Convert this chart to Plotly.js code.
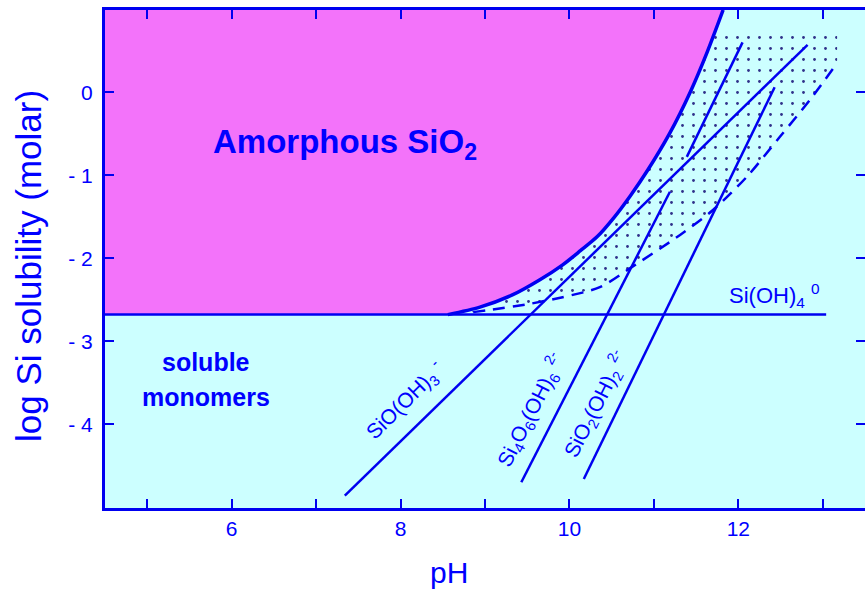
<!DOCTYPE html>
<html>
<head>
<meta charset="utf-8">
<script src="https://cdn.plot.ly/plotly-3.0.1.min.js"></script>
<style>html,body{margin:0;padding:0;background:#fff;}#chart{width:865px;height:590px;}</style>
</head>
<body>
<div id="chart"></div>
<script>
// ---- data ----
var silicaLog = -2.68;                 // Si(OH)4 0 solubility level
var monomerEndPH = 13.04;

// amorphous silica solubility boundary (upper thick curve)
var solPH  = [8.56, 8.94, 9.33, 9.65, 9.92, 10.13, 10.33, 10.52, 10.72, 10.92, 11.19, 11.43, 11.63, 11.82];
var solLog = [-2.68, -2.59, -2.44, -2.26, -2.08, -1.91, -1.74, -1.52, -1.25, -0.95, -0.49, 0.00, 0.48, 0.99];

// dashed lower curve
var dashPH  = [8.86, 9.08, 9.53, 9.92, 10.36, 10.72, 11.31, 11.70, 12.10, 12.49, 12.85, 13.17];
var dashLog = [-2.65, -2.62, -2.55, -2.47, -2.35, -2.12, -1.72, -1.42, -1.02, -0.54, -0.09, 0.35];

// dotted band upper edge
var dotTopLog = 0.77;
var dotTopStartPH = 11.72;
var dotRightPH = 13.17;

// species lines [start, end]
var siOOH3PH = [7.34, 12.82],  siOOH3Log = [-4.86, 0.57];
var si4PH    = [9.43, 11.19],  si4Log    = [-4.70, -1.20];
var upperPH  = [11.39, 12.05], upperLog  = [-0.78, 0.60];
var siO2PH   = [10.17, 12.43], siO2Log   = [-4.66, 0.06];

var xTickVals = [6, 8, 10, 12];
var xTickText = ['6', '8', '10', '12'];
var xMinorVals = [5, 7, 9, 11, 13];
var yTickVals = [-4, -3, -2, -1, 0];
var yTickText = ['- 4', '- 3', '- 2', '- 1', '0'];

// ---- styles ----
var BLUE = '#0000f0';
var TXT = '#0000ff';
var MAG = '#f373fa';
var CYAN = '#ccffff';
var FONT = 'Liberation Sans, Arial, Helvetica, sans-serif';
var xMin = 4.5, xMax = 13.5, yMin = -5.01, yMax = 0.99;

// magenta polygon built from solubility curve
var magX = [xMin - 0.1, xMin - 0.1], magY = [silicaLog, yMax + 0.1];
magX.push(solPH[solPH.length - 1] + 0.04); magY.push(yMax + 0.1);
for (var i = solPH.length - 1; i >= 0; i--) { magX.push(solPH[i]); magY.push(solLog[i]); }

// dotted polygon: solubility curve up to dot top, across, down, back along dashed
var dotX = [], dotY = [];
for (var j = 0; j < solPH.length; j++) {
  if (solLog[j] < dotTopLog) { dotX.push(solPH[j]); dotY.push(solLog[j]); }
}
dotX.push(dotTopStartPH); dotY.push(dotTopLog);
dotX.push(dotRightPH); dotY.push(dotTopLog);
for (var k = dashPH.length - 1; k >= 0; k--) { dotX.push(dashPH[k]); dotY.push(dashLog[k]); }

var traces = [
  {x: dotX, y: dotY, mode: 'lines', fill: 'toself', line: {width: 0, color: 'rgba(0,0,0,0)'},
   fillcolor: CYAN,
   fillpattern: {shape: '.', size: 11, solidity: 0.05, fgcolor: '#30308a', bgcolor: CYAN},
   hoverinfo: 'skip'},
  {x: magX, y: magY, mode: 'lines', fill: 'toself', fillcolor: MAG, line: {width: 0, color: MAG}, hoverinfo: 'skip'},
  {x: solPH, y: solLog, mode: 'lines', line: {color: BLUE, width: 3.5, shape: 'spline', smoothing: 0.8}},
  {x: dashPH, y: dashLog, mode: 'lines', line: {color: BLUE, width: 2.5, dash: '12px,8px', shape: 'spline', smoothing: 0.8}},
  {x: [xMin, monomerEndPH], y: [silicaLog, silicaLog], mode: 'lines', line: {color: BLUE, width: 2.5}},
  {x: siOOH3PH, y: siOOH3Log, mode: 'lines', line: {color: BLUE, width: 2.5}},
  {x: si4PH, y: si4Log, mode: 'lines', line: {color: BLUE, width: 2.5}},
  {x: upperPH, y: upperLog, mode: 'lines', line: {color: BLUE, width: 2.5}},
  {x: siO2PH, y: siO2Log, mode: 'lines', line: {color: BLUE, width: 2.5}}
];

var axisCommon = {
  showgrid: false, zeroline: false, showline: true, linecolor: BLUE, linewidth: 3,
  ticks: 'inside', ticklen: 9, tickwidth: 2, tickcolor: BLUE, mirror: 'ticks',
  tickfont: {family: FONT, size: 21, color: TXT}, fixedrange: true
};

var layout = {
  width: 865, height: 590,
  margin: {l: 105, r: 0, t: 10, b: 82},
  paper_bgcolor: '#ffffff', plot_bgcolor: CYAN,
  showlegend: false,
  xaxis: Object.assign({}, axisCommon, {range: [xMin, xMax], tickmode: 'array', tickvals: xTickVals, ticktext: xTickText,
    minor: {tickmode: 'array', tickvals: xMinorVals, ticks: 'inside', ticklen: 9, tickwidth: 2, tickcolor: BLUE, showgrid: false}}),
  yaxis: Object.assign({}, axisCommon, {range: [yMin, yMax], tickmode: 'array', tickvals: yTickVals, ticktext: yTickText,
    ticklabelstandoff: 5}),
  annotations: [
    {xref: 'paper', yref: 'paper', x: -0.1, y: 0.486, text: 'log Si solubility (molar)', textangle: -90,
     showarrow: false, xanchor: 'center', yanchor: 'middle', font: {family: FONT, size: 35, color: TXT}},
    {xref: 'paper', yref: 'paper', x: 0.452, y: -0.1305, text: 'pH', showarrow: false,
     xanchor: 'center', yanchor: 'middle', font: {family: FONT, size: 30, color: TXT}},
    {x: 5.76, y: -0.62, text: '<b>Amorphous SiO<sub>2</sub></b>', showarrow: false, xanchor: 'left', yanchor: 'middle',
     font: {family: FONT, size: 33, color: TXT}},
    {x: 5.70, y: -3.25, text: '<b>soluble</b>', showarrow: false, font: {family: FONT, size: 25, color: TXT}},
    {x: 5.70, y: -3.67, text: '<b>monomers</b>', showarrow: false, font: {family: FONT, size: 25, color: TXT}},
    {x: 11.86, y: -2.45, text: 'Si(OH)<sub>4</sub> <sup>0</sup>', showarrow: false, xanchor: 'left', yanchor: 'middle',
     font: {family: FONT, size: 22, color: TXT}},
    {x: 8.05, y: -3.71, text: 'SiO(OH)<sub>3</sub> <sup>-</sup>', textangle: -44.5, showarrow: false,
     font: {family: FONT, size: 21, color: TXT}},
    {x: 9.54, y: -3.83, text: 'Si<sub>4</sub>O<sub>6</sub>(OH)<sub>6</sub> <sup>2-</sup>', textangle: -63, showarrow: false,
     font: {family: FONT, size: 21, color: TXT}},
    {x: 10.31, y: -3.76, text: 'SiO<sub>2</sub>(OH)<sub>2</sub> <sup>2-</sup>', textangle: -63, showarrow: false,
     font: {family: FONT, size: 21, color: TXT}}
  ]
};

Plotly.newPlot('chart', traces, layout, {displayModeBar: false, staticPlot: true});
</script>
</body>
</html>
